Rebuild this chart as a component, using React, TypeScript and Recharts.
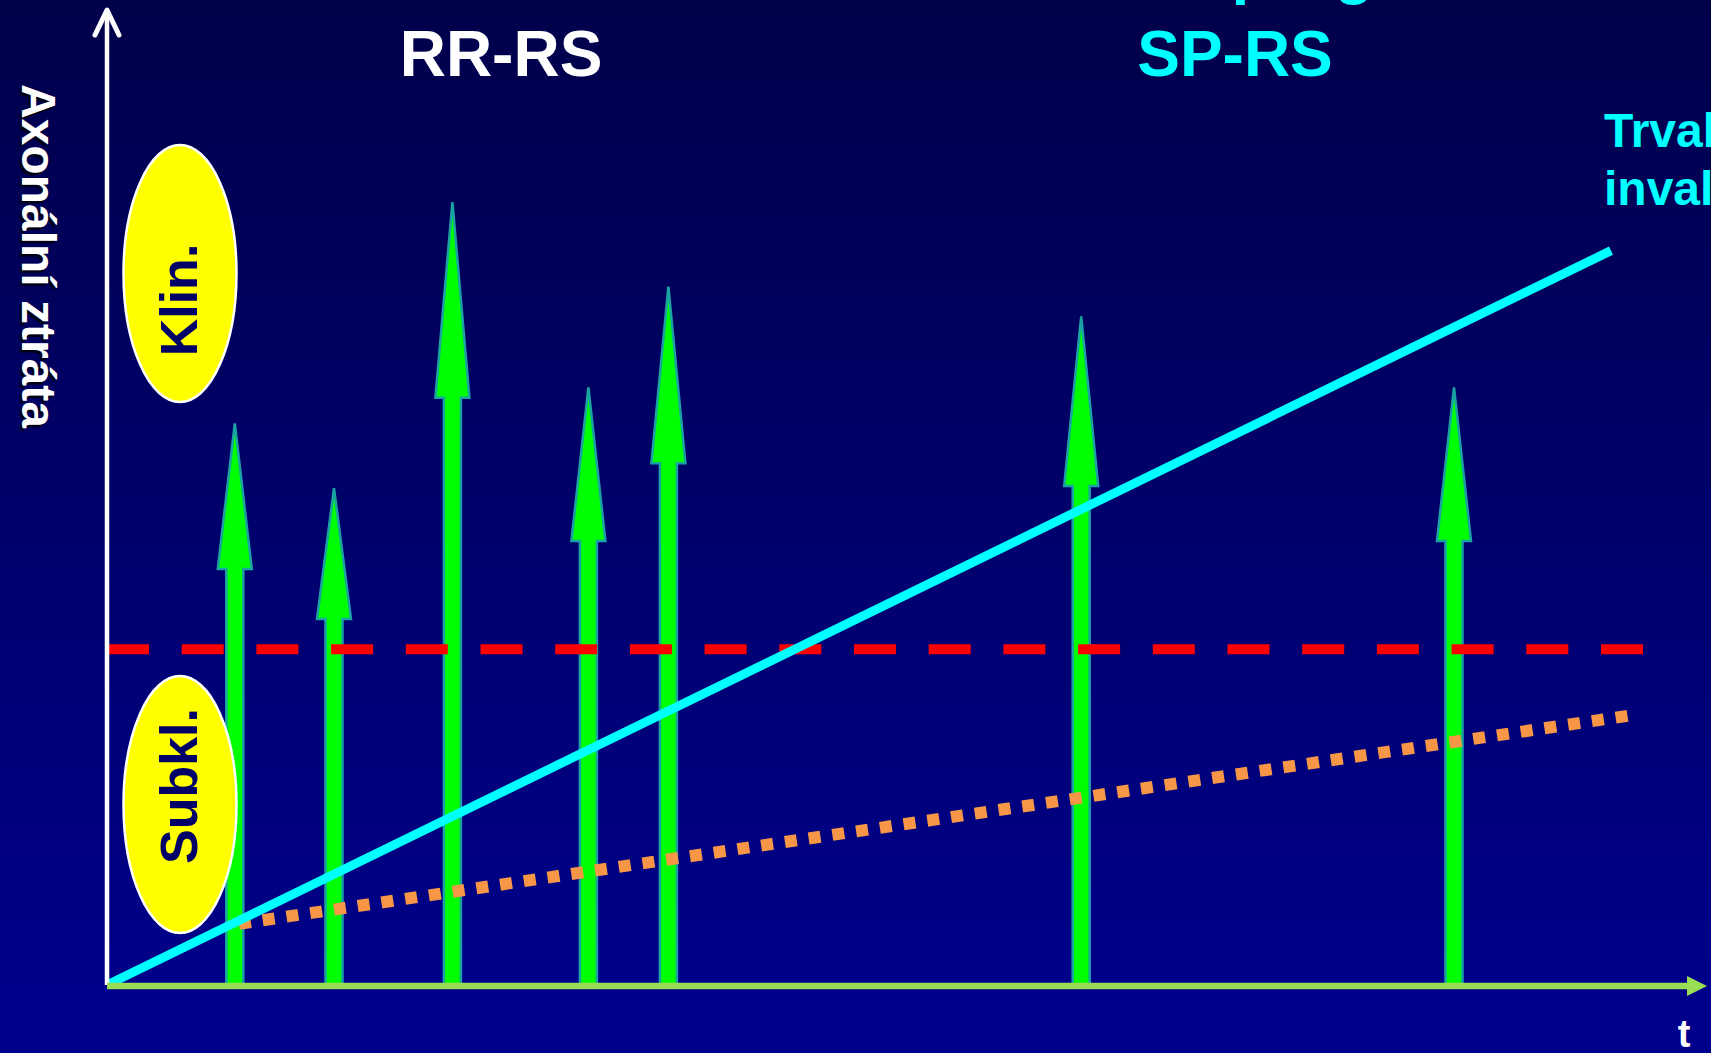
import React from 'react';
import { ComposedChart, Bar, Line, XAxis, YAxis } from 'recharts';

// Canvas and plot geometry
const W = 1711;
const H = 1053;
const PLOT_LEFT = 107;
const PLOT_TOP = 85;
const PLOT_RIGHT = 1707;
const PLOT_BOTTOM = 985;

// Relapses: time of each attack and its peak axonal loss
const relapseTimes = [8.0, 14.2, 21.6, 30.1, 35.1, 60.9, 84.2];
const relapsePeaks = [62.4, 55.2, 87.0, 66.4, 77.6, 74.3, 66.4];

// Sustained disability (cumulative axonal loss)
const disabilityTimes = [0, 94.0];
const disabilityValues = [0, 81.6];

// Subclinical background loss
const subclinicalTimes = [8.25, 95.75];
const subclinicalValues = [6.8, 30.1];

// Clinical threshold
const thresholdTimes = [0, 96.0];
const thresholdValues = [37.3, 37.3];

const relapseData = relapseTimes.map((t, i) => ({ t, peak: relapsePeaks[i] }));
const toSeries = (ts: number[], vs: number[]) => ts.map((t, i) => ({ t, v: vs[i] }));
const disabilityData = toSeries(disabilityTimes, disabilityValues);
const subclinicalData = toSeries(subclinicalTimes, subclinicalValues);
const thresholdData = toSeries(thresholdTimes, thresholdValues);

const FONT = "'Liberation Sans', Arial, Helvetica, sans-serif";

// Upward block arrow drawn from the bar's box: tip at the top, shaft down to the baseline
const ArrowShape = (props: any) => {
  const { x, y, width, height } = props;
  if (x == null || y == null || !height) return null;
  const cx = x + width / 2;
  const base = y + height;
  const headLen = height * 0.227 + 18;
  const headHalf = 17;
  const shaftHalf = 8.5;
  const hy = y + headLen;
  const pts = [
    [cx, y],
    [cx + headHalf, hy],
    [cx + shaftHalf, hy],
    [cx + shaftHalf, base],
    [cx - shaftHalf, base],
    [cx - shaftHalf, hy],
    [cx - headHalf, hy],
  ];
  return (
    <polygon
      points={pts.map((p) => p.join(',')).join(' ')}
      fill="#00FF00"
      stroke="#1AA3A3"
      strokeWidth={2.5}
      strokeLinejoin="miter"
      strokeMiterlimit={4}
    />
  );
};

const Overlay = () => (
  <svg
    width={W}
    height={H}
    style={{ position: 'absolute', left: 0, top: 0, overflow: 'hidden', pointerEvents: 'none' }}
  >
    {/* vertical axis with open arrowhead */}
    <line x1={PLOT_LEFT} y1={PLOT_BOTTOM} x2={PLOT_LEFT} y2={12} stroke="#FFFFFF" strokeWidth={4.5} />
    <polyline
      points={`${PLOT_LEFT - 12},35 ${PLOT_LEFT},10 ${PLOT_LEFT + 12},35`}
      fill="none"
      stroke="#FFFFFF"
      strokeWidth={5}
      strokeLinecap="round"
      strokeLinejoin="round"
    />
    {/* time axis with filled arrowhead */}
    <line x1={PLOT_LEFT} y1={PLOT_BOTTOM + 1} x2={PLOT_RIGHT - 18} y2={PLOT_BOTTOM + 1} stroke="#99DD55" strokeWidth={6.5} />
    <polygon
      points={`${PLOT_RIGHT - 20},${PLOT_BOTTOM - 9} ${PLOT_RIGHT},${PLOT_BOTTOM + 1} ${PLOT_RIGHT - 20},${PLOT_BOTTOM + 11}`}
      fill="#99DD55"
    />
    <text x={1684} y={1047} textAnchor="middle" fill="#FFFFFF" fontFamily={FONT} fontWeight="bold" fontSize={38}>
      t
    </text>

    {/* vertical axis title with shadow */}
    <g transform="translate(22, 256) rotate(90)">
      <text x={2.5} y={2.5} textAnchor="middle" fill="#000000" fillOpacity={0.8} fontFamily={FONT} fontWeight="bold" fontSize={48}>
        Axonální ztráta
      </text>
      <text x={0} y={0} textAnchor="middle" fill="#FFFFFF" fontFamily={FONT} fontWeight="bold" fontSize={48}>
        Axonální ztráta
      </text>
    </g>

    {/* clinical / subclinical zone badges */}
    <ellipse cx={180} cy={273.5} rx={56.5} ry={128.5} fill="#FFFF00" stroke="#FFFFFF" strokeWidth={2.5} />
    <g transform="translate(197, 300) rotate(-90)">
      <text x={0} y={0} textAnchor="middle" fill="#000066" fontFamily={FONT} fontWeight="bold" fontSize={52}>
        Klin.
      </text>
    </g>
    <ellipse cx={180} cy={804.5} rx={56.5} ry={128.5} fill="#FFFF00" stroke="#FFFFFF" strokeWidth={2.5} />
    <g transform="translate(197, 786) rotate(-90)">
      <text x={0} y={0} textAnchor="middle" fill="#000066" fontFamily={FONT} fontWeight="bold" fontSize={52}>
        Subkl.
      </text>
    </g>

    {/* phase headings */}
    <text x={501} y={76} textAnchor="middle" fill="#FFFFFF" fontFamily={FONT} fontWeight="bold" fontSize={64}>
      RR-RS
    </text>
    <text x={1235} y={-8} textAnchor="middle" fill="#00FFFF" fontFamily={FONT} fontWeight="bold" fontSize={64}>
      Sekund. progrese
    </text>
    <text x={1235} y={76} textAnchor="middle" fill="#00FFFF" fontFamily={FONT} fontWeight="bold" fontSize={64}>
      SP-RS
    </text>

    {/* disability line label */}
    <text x={1604} y={147} fill="#00FFFF" fontFamily={FONT} fontWeight="bold" fontSize={48}>
      Trvalá
    </text>
    <text x={1604} y={205} fill="#00FFFF" fontFamily={FONT} fontWeight="bold" fontSize={48}>
      invalidita
    </text>
  </svg>
);

export default function App() {
  return (
    <div
      style={{
        position: 'absolute',
        left: 0,
        top: 0,
        width: W,
        height: H,
        overflow: 'hidden',
        background: 'linear-gradient(to bottom, #00004A 0%, #00006C 50%, #00008E 100%)',
      }}
    >
      <ComposedChart
        width={W}
        height={H}
        data={relapseData}
        margin={{ top: PLOT_TOP, right: W - PLOT_RIGHT, bottom: H - PLOT_BOTTOM, left: PLOT_LEFT }}
      >
        <XAxis type="number" dataKey="t" domain={[0, 100]} hide />
        <YAxis type="number" domain={[0, 100]} hide />
        <Bar dataKey="peak" barSize={20} shape={<ArrowShape />} isAnimationActive={false} />
        <Line
          data={thresholdData}
          dataKey="v"
          type="linear"
          stroke="#FF0000"
          strokeWidth={10}
          strokeDasharray="42 32.7"
          dot={false}
          activeDot={false}
          isAnimationActive={false}
        />
        <Line
          data={subclinicalData}
          dataKey="v"
          type="linear"
          stroke="#F79646"
          strokeWidth={12}
          strokeDasharray="12 12"
          dot={false}
          activeDot={false}
          isAnimationActive={false}
        />
        <Line
          data={disabilityData}
          dataKey="v"
          type="linear"
          stroke="#00FFFF"
          strokeWidth={9}
          dot={false}
          activeDot={false}
          isAnimationActive={false}
        />
      </ComposedChart>
      <Overlay />
    </div>
  );
}
